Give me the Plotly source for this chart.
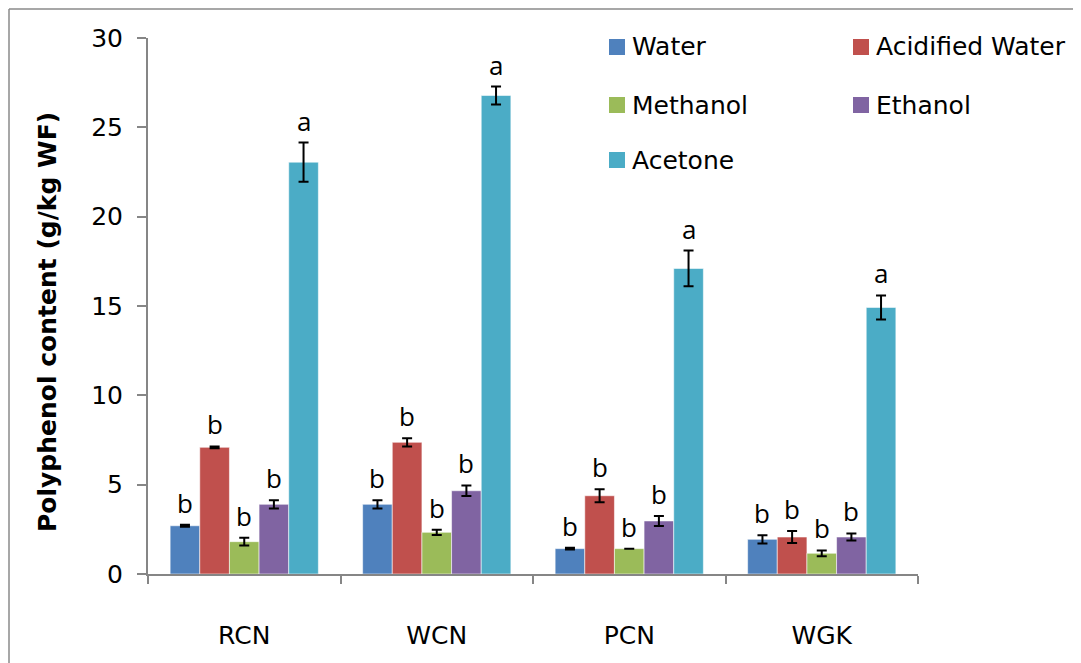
import plotly.graph_objects as go

categories = ["RCN", "WCN", "PCN", "WGK"]
series_names = ["Water", "Acidified Water", "Methanol", "Ethanol", "Acetone"]
water = [2.70, 3.90, 1.42, 1.94]
acidified_water = [7.09, 7.37, 4.38, 2.07]
methanol = [1.81, 2.33, 1.42, 1.16]
ethanol = [3.90, 4.66, 2.97, 2.07]
acetone = [23.05, 26.78, 17.10, 14.92]

water_err = [0.05, 0.23, 0.05, 0.23]
acidified_water_err = [0.05, 0.23, 0.36, 0.34]
methanol_err = [0.22, 0.15, 0.0, 0.16]
ethanol_err = [0.23, 0.30, 0.28, 0.20]
acetone_err = [1.10, 0.50, 1.00, 0.67]

water_letters = ["b", "b", "b", "b"]
acidified_water_letters = ["b", "b", "b", "b"]
methanol_letters = ["b", "b", "b", "b"]
ethanol_letters = ["b", "b", "b", "b"]
acetone_letters = ["a", "a", "a", "a"]

y_title = "Polyphenol content (g/kg WF)"

colors = ["#4F81BD", "#C0504D", "#9BBB59", "#8064A2", "#4BACC6"]

values = [water, acidified_water, methanol, ethanol, acetone]
errors = [water_err, acidified_water_err, methanol_err, ethanol_err, acetone_err]
letters = [water_letters, acidified_water_letters, methanol_letters,
           ethanol_letters, acetone_letters]

# page has an 8px body margin; figure sized so plot area lands at
# window x 148..918, y 38..574
OFF = 8
W, H = 1081 - OFF, 663 - OFF
L, T = 148 - OFF, 38 - OFF
PW, PH = 770, 536
R, B = W - L - PW, H - T - PH
BARGAP = 0.23

def px(x):  # window pixel -> paper
    return (x - OFF - L) / PW

def py(y):  # window pixel -> paper
    return (T + PH - (y - OFF)) / PH

FONT = "DejaVu Sans, Liberation Sans, sans-serif"

fig = go.Figure()
for name, vals, errs, col in zip(series_names, values, errors, colors):
    fig.add_trace(go.Bar(
        name=name, x=categories, y=vals,
        marker=dict(color=col, line=dict(color="rgba(255,255,255,0.55)", width=1)),
        error_y=dict(type="data", array=errs, visible=True, color="black",
                     thickness=2, width=5),
        showlegend=False,
    ))

annotations = []
n = len(series_names)
bw = (1 - BARGAP) / n
for i, (vals, errs, labs) in enumerate(zip(values, errors, letters)):
    for k, (v, e, lab) in enumerate(zip(vals, errs, labs)):
        annotations.append(dict(
            x=k + (i - (n - 1) / 2) * bw, y=v + e, xref="x", yref="y",
            text=lab, showarrow=False, yanchor="bottom", yshift=2,
            font=dict(family="Open Sans, Noto Sans, sans-serif", size=26, color="black"),
        ))

# manual legend (two columns)
leg_pos = [(609, 47), (853, 47), (609, 105), (853, 105), (609, 160)]
shapes = []
for name, col, (lx, ly) in zip(series_names, colors, leg_pos):
    shapes.append(dict(type="rect", xref="paper", yref="paper",
                       x0=px(lx), x1=px(lx + 16), y0=py(ly + 8), y1=py(ly - 8),
                       fillcolor=col, line=dict(width=0)))
    annotations.append(dict(x=px(lx + 21), y=py(ly), xref="paper", yref="paper",
                            text=name, showarrow=False, xanchor="left", yanchor="middle",
                            font=dict(family=FONT, size=25, color="black")))

# y-axis title
annotations.append(dict(x=px(47), y=py(322), xref="paper", yref="paper",
                        text="<b>" + y_title + "</b>", textangle=-90, showarrow=False,
                        xanchor="center", yanchor="middle",
                        font=dict(family=FONT, size=25, color="black")))

# outer chart border (left and top edges visible)
shapes.append(dict(type="line", xref="paper", yref="paper",
                   x0=px(9), x1=px(9), y0=py(9), y1=py(700),
                   line=dict(color="#8a8a8a", width=1.5)))
shapes.append(dict(type="line", xref="paper", yref="paper",
                   x0=px(9), x1=px(1100), y0=py(9), y1=py(9),
                   line=dict(color="#8a8a8a", width=1.5)))

fig.update_layout(
    width=W, height=H,
    margin=dict(l=L, r=R, t=T, b=B, pad=0),
    paper_bgcolor="white", plot_bgcolor="white",
    barmode="group", bargap=BARGAP, bargroupgap=0,
    annotations=annotations, shapes=shapes,
    font=dict(family=FONT, size=25, color="black"),
)
fig.update_yaxes(
    range=[0, 30], tickvals=[0, 5, 10, 15, 20, 25, 30],
    showgrid=False, zeroline=False,
    showline=True, linecolor="#868686", linewidth=2,
    ticks="outside", ticklen=9, tickcolor="#868686", tickwidth=1.5,
    ticklabelstandoff=9,
    tickfont=dict(family=FONT, size=25, color="black"),
)
fig.update_xaxes(
    showgrid=False, showline=True, linecolor="#868686", linewidth=2,
    ticks="outside", tickson="boundaries", ticklen=8, tickcolor="#868686", tickwidth=1.5,
    ticklabelstandoff=38,
    tickfont=dict(family=FONT, size=25, color="black"),
)

fig.write_html("out.html")
